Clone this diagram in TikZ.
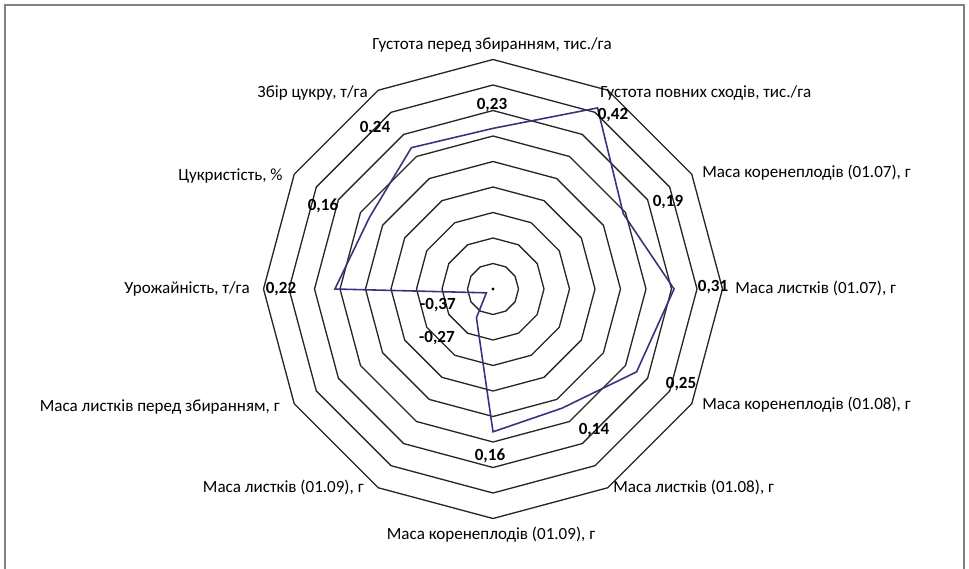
\documentclass[tikz,border=0pt]{standalone}
\usepackage{fontspec}
\setmainfont{Carlito}
\usetikzlibrary{positioning}
\definecolor{seriesblue}{RGB}{52,52,128}
\definecolor{framegray}{RGB}{128,128,128}
\tikzset{
  ring/.style={draw=black!85, line width=0.75pt},
  series/.style={draw=seriesblue, line width=0.9pt},
  cat/.style={font=\fontsize{9.7}{11}\selectfont, inner sep=0pt},
  val/.style={font=\fontsize{9.7}{11}\selectfont\bfseries, inner sep=0pt}
}
\begin{document}
\begin{tikzpicture}[x=0.02cm, y=0.02cm]
\useasboundingbox (0,0) rectangle (969,-568);
\fill[white] (0,0) rectangle (969,-568);
% frame
\draw[framegray, line width=1.6pt] (5,-580) -- (5,-5) -- (964,-5) -- (964,-580);
% rings and series
\begin{scope}[shift={(493,-289)}]
  \foreach \k in {1,...,9}
    \draw[ring] (90:\k*25.5) \foreach \a in {120,150,...,420}{ -- (\a:\k*25.5)} -- cycle;
  \fill (0,0) circle (1.6);
  \foreach \v [count=\i] in {0.23,0.42,0.19,0.31,0.25,0.14,0.16,-0.27,-0.37,0.22,0.16,0.24}
    \coordinate (p\i) at ({90-30*(\i-1)}:{(\v+0.4)*255});
  \draw[series] (p1) -- (p2) -- (p3) -- (p4) -- (p5) -- (p6) -- (p7) -- (p8) -- (p9) -- (p10) -- (p11) -- (p12) -- cycle;
\end{scope}
% category labels
\node[cat] (gpz) at (492,-45) {Густота перед збиранням, тис./га};
\node[cat, anchor=west] (gps) at (600,-93) {Густота повних сходів, тис./га};
\node[cat, anchor=west] (mk07) at (702,-173) {Маса коренеплодів (01.07), г};
\node[cat, anchor=west] (ml07) at (735,-288) {Маса листків (01.07), г};
\node[cat, anchor=west] (mk08) at (702,-405) {Маса коренеплодів (01.08), г};
\node[cat, anchor=west] (ml08) at (613,-487) {Маса листків (01.08), г};
\node[cat] (mk09) at (491,-535) {Маса коренеплодів (01.09), г};
\node[cat, anchor=east] (ml09) at (364,-487) {Маса листків (01.09), г};
\node[cat, anchor=east] (mlpz) at (280,-407) {Маса листків перед збиранням, г};
\node[cat, anchor=east] (urozh) at (250,-289) {Урожайність, т/га};
\node[cat, anchor=east] (tsukr) at (283,-176) {Цукристість, \%};
\node[cat, anchor=east] (zbir) at (368,-93) {Збір цукру, т/га};
% value labels
\node[val] (v1) at (492,-105) {0,23};
\node[val] (v2) at (613,-115) {0,42};
\node[val] (v3) at (668,-202) {0,19};
\node[val] (v4) at (713,-287) {0,31};
\node[val] (v5) at (681,-384) {0,25};
\node[val] (v6) at (594,-430) {0,14};
\node[val] (v7) at (490,-456) {0,16};
\node[val] (v8) at (437,-338) {-0,27};
\node[val] (v9) at (438,-305) {-0,37};
\node[val] (v10) at (281,-289) {0,22};
\node[val] (v11) at (323,-206) {0,16};
\node[val] (v12) at (375,-128) {0,24};
\end{tikzpicture}
\end{document}
